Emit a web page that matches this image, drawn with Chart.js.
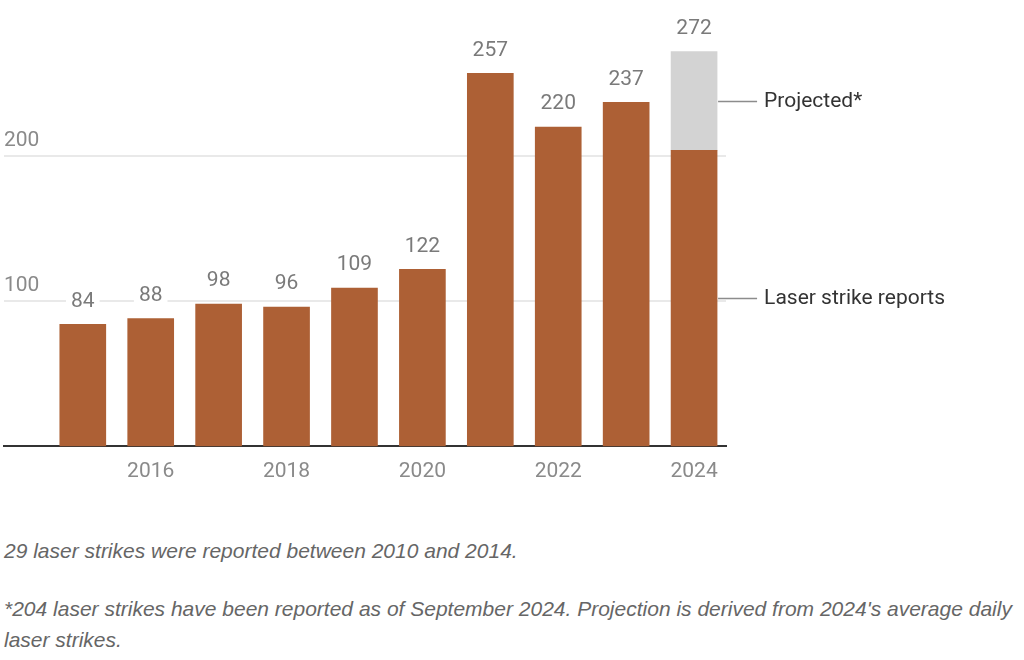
<!DOCTYPE html>
<html>
<head>
<meta charset="utf-8">
<script src="https://cdn.jsdelivr.net/npm/chart.js@4.4.1/dist/chart.umd.min.js"></script>
<style>
  html, body { margin: 0; padding: 0; background: #fff; }
  #wrap { position: relative; width: 1024px; height: 660px; overflow: hidden; }
  #chart { position: absolute; left: 0; top: 0; }
  .nota {
    position: absolute; left: 4px; margin: 0;
    font-family: "Liberation Sans", Arial, sans-serif;
    font-style: italic; font-size: 21px; line-height: 31px; color: #666;
    white-space: nowrap;
  }
</style>
</head>
<body>
<div id="wrap">
  <canvas id="chart" width="1024" height="500"></canvas>
  <p class="nota" style="top:535px">29 laser strikes were reported between 2010 and 2014.</p>
  <p class="nota" style="top:593px">*204 laser strikes have been reported as of September 2024. Projection is derived from 2024's average daily<br>laser strikes.</p>
</div>
<script>
// =============================================
// DATOS
// =============================================
const anios = [2015, 2016, 2017, 2018, 2019, 2020, 2021, 2022, 2023, 2024];
const reportes = [84, 88, 98, 96, 109, 122, 257, 220, 237, 204];
const anioProyectado = 2024;
const totalProyectado = 272;
const ticksX = [2016, 2018, 2020, 2022, 2024];
const ticksY = [100, 200];

const COLOR_BARRA = "#ad6035";
const COLOR_PROY = "#d3d3d3";
const FUENTE = "Roboto, 'Liberation Sans', sans-serif";

// serie de reportes y parte proyectada (total - reportado)
const datosReportes = anios.map((a, i) => ({ x: a, y: reportes[i] }));
const idxProy = anios.indexOf(anioProyectado);
const datosProy = [{ x: anioProyectado, y: totalProyectado - reportes[idxProy] }];

// =============================================
// PLUGIN: etiquetas y anotaciones
// =============================================
const etiquetasPlugin = {
  id: "etiquetas",
  beforeDatasetsDraw(chart) {
    const ctx = chart.ctx;
    const area = chart.chartArea;
    const y = chart.scales.y;
    ctx.save();
    ctx.font = "21px " + FUENTE;
    ctx.fillStyle = "#8a8a8a";
    ctx.textAlign = "left";
    ctx.textBaseline = "alphabetic";
    ticksY.forEach((v) => {
      ctx.fillText(String(v), area.left, y.getPixelForValue(v) - 10);
    });
    ctx.restore();
  },
  afterDatasetsDraw(chart) {
    const ctx = chart.ctx;
    const metaRep = chart.getDatasetMeta(0);
    const metaProy = chart.getDatasetMeta(1);
    const y = chart.scales.y;

    ctx.save();
    ctx.font = "21px " + FUENTE;
    ctx.textAlign = "center";
    ctx.textBaseline = "middle";

    anios.forEach((a, i) => {
      let barra = metaRep.data[i];
      let total = reportes[i];
      if (a === anioProyectado) {
        barra = metaProy.data[0];
        total = totalProyectado;
      }
      const texto = String(total);
      const w = ctx.measureText(texto).width;
      const cy = barra.y - 23;
      ctx.fillStyle = "#fff";
      ctx.fillRect(barra.x - w / 2 - 5, cy - 12, w + 10, 24);
      ctx.fillStyle = "#7a7a7a";
      ctx.fillText(texto, barra.x, cy);
    });

    // anotaciones a la derecha de la ultima barra
    const barra = metaRep.data[idxProy];
    const x0 = barra.x + barra.width / 2 + 1;
    const anotaciones = [
      { texto: "Projected*", v: (reportes[idxProy] + totalProyectado) / 2 },
      { texto: "Laser strike reports", v: reportes[idxProy] / 2 },
    ];
    anotaciones.forEach((an) => {
      const py = Math.round(y.getPixelForValue(an.v)) + 0.5;
      ctx.strokeStyle = "#8c8c8c";
      ctx.lineWidth = 1.5;
      ctx.beginPath();
      ctx.moveTo(x0, py);
      ctx.lineTo(x0 + 39, py);
      ctx.stroke();
      ctx.fillStyle = "#333";
      ctx.textAlign = "left";
      ctx.fillText(an.texto, x0 + 46, py);
    });
    ctx.restore();
  },
};

// =============================================
// GRAFICA
// =============================================
const ctx = document.getElementById("chart").getContext("2d");
new Chart(ctx, {
  type: "bar",
  data: {
    datasets: [
      {
        label: "Laser strike reports",
        data: datosReportes,
        backgroundColor: COLOR_BARRA,
        barThickness: 46,
      },
      {
        label: "Projected*",
        data: datosProy,
        backgroundColor: COLOR_PROY,
        barThickness: 46,
      },
    ],
  },
  options: {
    responsive: false,
    animation: false,
    layout: { padding: { left: 4, right: 298, top: 11, bottom: 10.5 } },
    plugins: { legend: { display: false }, tooltip: { enabled: false } },
    scales: {
      x: {
        type: "linear",
        stacked: true,
        offset: false,
        min: 2013.84,
        max: 2024.47,
        afterBuildTicks: (scale) => {
          scale.ticks = ticksX.map((v) => ({ value: v }));
        },
        grid: { display: false, offset: false },
        border: { display: true, color: "#333", width: 2 },
        ticks: {
          autoSkip: false,
          maxRotation: 0,
          padding: 5,
          color: "#8a8a8a",
          font: { family: FUENTE, size: 21 },
          callback: (v) => String(v),
        },
      },
      y: {
        stacked: true,
        min: 0,
        max: 300,
        afterBuildTicks: (scale) => {
          scale.ticks = ticksY.map((v) => ({ value: v }));
        },
        grid: { color: "#e9e9e9", lineWidth: 2, drawTicks: false },
        border: { display: false },
        ticks: { display: false },
      },
    },
  },
  plugins: [etiquetasPlugin],
});
</script>
</body>
</html>
